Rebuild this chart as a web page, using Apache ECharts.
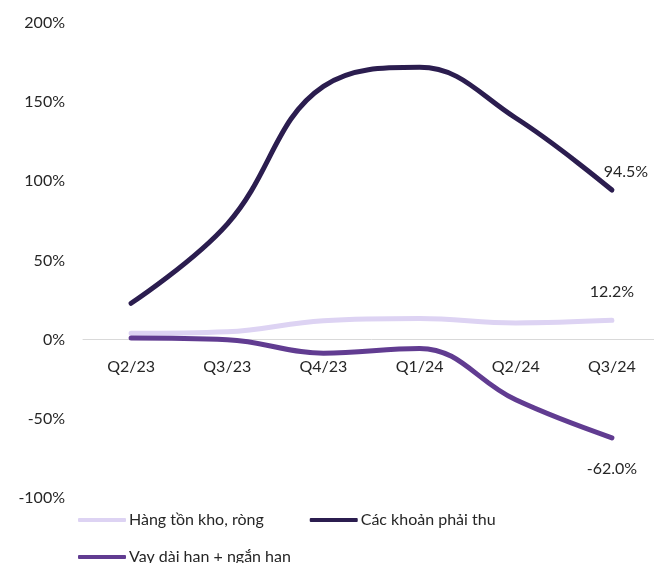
<!DOCTYPE html>
<html>
<head>
<meta charset="utf-8">
<script src="https://cdn.jsdelivr.net/npm/echarts@6/dist/echarts.min.js"></script>
<style>
  html, body { margin: 0; padding: 0; background: #fff; overflow: hidden; }
  #main { width: 660px; height: 563px; }
</style>
</head>
<body>
<div id="main"></div>
<script>
// data
var categories = ['Q2/23', 'Q3/23', 'Q4/23', 'Q1/24', 'Q2/24', 'Q3/24'];
var hangTonKho = [4, 5, 12, 13.4, 10.6, 12.2];
var phaiThu = [23, 73, 160, 172, 140, 94.5];
var vay = [1, 0, -8.5, -5.5, -38, -62.0];
var yTicks = [-100, -50, 0, 50, 100, 150, 200];

var FONT = 'Lato';
var TEXT = '#262626';

var myChart = echarts.init(document.getElementById('main'));

// chỉ hiện nhãn ở điểm cuối
function lastLabel(arr, pos, dist, offset) {
  return arr.map(function (v, i) {
    if (i !== arr.length - 1) return v;
    return {
      value: v,
      label: {
        show: true,
        position: pos,
        distance: dist,
        offset: offset || [0, 0],
        formatter: function (p) { return p.value.toFixed(1) + '%'; },
        color: TEXT,
        fontFamily: FONT,
        fontSize: 16
      }
    };
  });
}

var legendBase = {
  left: 73,
  itemWidth: 48,
  itemHeight: 4,
  itemGap: 46,
  icon: 'roundRect',
  textStyle: { color: TEXT, fontFamily: FONT, fontSize: 16, padding: [0, 0, 0, -2] }
};

var option = {
  animation: false,
  grid: { left: 83, right: 0, top: 23, bottom: 65 },
  legend: [
    Object.assign({}, legendBase, { top: 507, data: ['Hàng tồn kho, ròng', 'Các khoản phải thu'] }),
    Object.assign({}, legendBase, { top: 544, data: ['Vay dài hạn + ngắn hạn'] })
  ],
  xAxis: {
    type: 'category',
    data: categories,
    boundaryGap: true,
    offset: -158.5,
    axisLine: { onZero: false, lineStyle: { color: '#d9d9d9', width: 1 } },
    axisTick: { show: false },
    axisLabel: { color: TEXT, fontFamily: FONT, fontSize: 16, margin: 19 }
  },
  yAxis: {
    type: 'value',
    min: yTicks[0],
    max: yTicks[yTicks.length - 1],
    interval: 50,
    splitLine: { show: false },
    axisLine: { show: false },
    axisTick: { show: false },
    axisLabel: {
      color: TEXT, fontFamily: FONT, fontSize: 16, margin: 18,
      formatter: '{value}%'
    }
  },
  series: [
    {
      name: 'Hàng tồn kho, ròng',
      type: 'line',
      smooth: 0.4,
      symbol: 'circle',
      symbolSize: 0.1,
      lineStyle: { width: 5, color: '#ddd3f3', cap: 'round' },
      itemStyle: { color: '#ddd3f3' },
      data: lastLabel(hangTonKho, 'top', 20)
    },
    {
      name: 'Các khoản phải thu',
      type: 'line',
      smooth: 0.4,
      symbol: 'circle',
      symbolSize: 0.1,
      lineStyle: { width: 5, color: '#2b1d4f', cap: 'round' },
      itemStyle: { color: '#2b1d4f' },
      data: lastLabel(phaiThu, 'top', 10, [14, 0])
    },
    {
      name: 'Vay dài hạn + ngắn hạn',
      type: 'line',
      smooth: 0.4,
      symbol: 'circle',
      symbolSize: 0.1,
      lineStyle: { width: 5, color: '#613c91', cap: 'round' },
      itemStyle: { color: '#613c91' },
      data: lastLabel(vay, 'bottom', 23)
    }
  ]
};

myChart.setOption(option);
</script>
</body>
</html>
